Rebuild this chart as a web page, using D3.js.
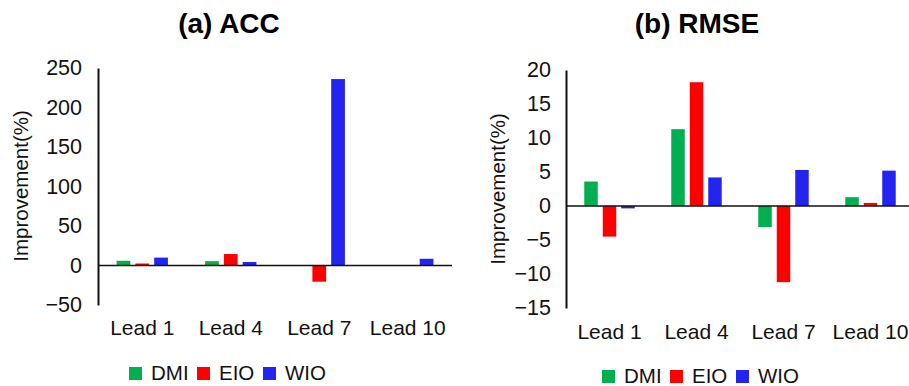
<!DOCTYPE html>
<html>
<head>
<meta charset="utf-8">
<script src="https://cdn.jsdelivr.net/npm/d3@7"></script>
<style>
  html, body { margin: 0; padding: 0; background: #fff; }
  svg { display: block; font-family: "Liberation Sans", Arial, sans-serif; }
</style>
</head>
<body>
<svg id="chart" width="909" height="386"></svg>
<script>
// ---- Data ----
const categories = ["Lead 1", "Lead 4", "Lead 7", "Lead 10"];
const seriesNames = ["DMI", "EIO", "WIO"];
const seriesColors = ["#00b050", "#ff0000", "#2424f0"];

const accDMI = [6, 5.5, 0, 0];
const accEIO = [2.5, 14.5, -20.5, 0];
const accWIO = [10, 4.5, 236, 8.5];
const accTicks = [-50, 0, 50, 100, 150, 200, 250];

const rmseDMI = [3.6, 11.3, -3.1, 1.3];
const rmseEIO = [-4.5, 18.2, -11.2, 0.45];
const rmseWIO = [-0.35, 4.2, 5.3, 5.2];
const rmseTicks = [-15, -10, -5, 0, 5, 10, 15, 20];

const svg = d3.select("#chart");

function drawPanel(cfg) {
  const g = svg.append("g");
  const values = [cfg.dmi, cfg.eio, cfg.wio];

  const x0 = d3.scaleBand().domain(categories)
    .range([cfg.left, cfg.right]).paddingInner(0.42).paddingOuter(0.21);
  const x1 = d3.scaleBand().domain(seriesNames)
    .range([0, x0.bandwidth()]).paddingInner(0.27);
  const y = d3.scaleLinear().domain(cfg.domain).range([cfg.bottom, cfg.top]);

  // Title
  g.append("text")
    .attr("x", cfg.titleX).attr("y", 33)
    .attr("text-anchor", "middle")
    .attr("font-size", 28).attr("font-weight", "bold").attr("fill", "#000")
    .text(cfg.title);

  // Bars
  seriesNames.forEach((s, si) => {
    g.append("g").selectAll("rect")
      .data(categories.map((c, ci) => ({ c, v: values[si][ci] })))
      .join("rect")
      .attr("x", d => x0(d.c) + x1(s))
      .attr("width", x1.bandwidth())
      .attr("y", d => y(Math.max(0, d.v)))
      .attr("height", d => Math.abs(y(d.v) - y(0)))
      .attr("fill", seriesColors[si]);
  });

  // Y axis (line + labels, no ticks)
  const yAxis = d3.axisLeft(y).tickValues(cfg.ticks).tickSize(0).tickPadding(cfg.tickPad)
    .tickFormat(d3.format("d"));
  const ya = g.append("g").attr("transform", `translate(${cfg.left},0)`).call(yAxis);
  ya.select(".domain").attr("stroke", "#111").attr("stroke-width", 2);
  ya.selectAll("text").attr("font-size", 21.5).attr("fill", "#111")
    .attr("font-family", "Liberation Sans, Arial, sans-serif");

  // Zero line
  g.append("line")
    .attr("x1", cfg.left).attr("x2", cfg.right)
    .attr("y1", y(0)).attr("y2", y(0))
    .attr("stroke", "#111").attr("stroke-width", 1.5);

  // Category labels
  const xAxis = d3.axisBottom(x0).tickSize(0).tickPadding(0);
  const xa = g.append("g").attr("transform", `translate(0,${cfg.catY})`).call(xAxis);
  xa.select(".domain").remove();
  xa.selectAll("text").attr("font-size", 21).attr("fill", "#111").attr("dy", 0)
    .attr("font-family", "Liberation Sans, Arial, sans-serif");

  // Y label
  g.append("text")
    .attr("transform", `translate(${cfg.ylabX},${cfg.ylabY}) rotate(-90)`)
    .attr("text-anchor", "middle")
    .attr("font-size", 20.5).attr("fill", "#111")
    .text("Improvement(%)");

  // Legend
  const lg = g.append("g").attr("transform", `translate(${cfg.legX},${cfg.legY})`);
  const offsets = [0, 68, 134];
  seriesNames.forEach((s, i) => {
    lg.append("rect").attr("x", offsets[i]).attr("y", -13)
      .attr("width", 13).attr("height", 13).attr("fill", seriesColors[i]);
    lg.append("text").attr("x", offsets[i] + 22).attr("y", 0)
      .attr("font-size", 20.5).attr("fill", "#111").text(s);
  });
}

drawPanel({
  title: "(a) ACC", titleX: 229,
  dmi: accDMI, eio: accEIO, wio: accWIO,
  domain: [-50, 250], ticks: accTicks,
  left: 98, right: 452, top: 68, bottom: 305,
  tickPad: 16, catY: 335,
  ylabX: 28, ylabY: 186,
  legX: 129, legY: 380
});

drawPanel({
  title: "(b) RMSE", titleX: 697,
  dmi: rmseDMI, eio: rmseEIO, wio: rmseWIO,
  domain: [-15, 20], ticks: rmseTicks,
  left: 566, right: 914, top: 70, bottom: 308,
  tickPad: 15, catY: 339,
  ylabX: 505, ylabY: 189,
  legX: 602, legY: 383
});
</script>
</body>
</html>
